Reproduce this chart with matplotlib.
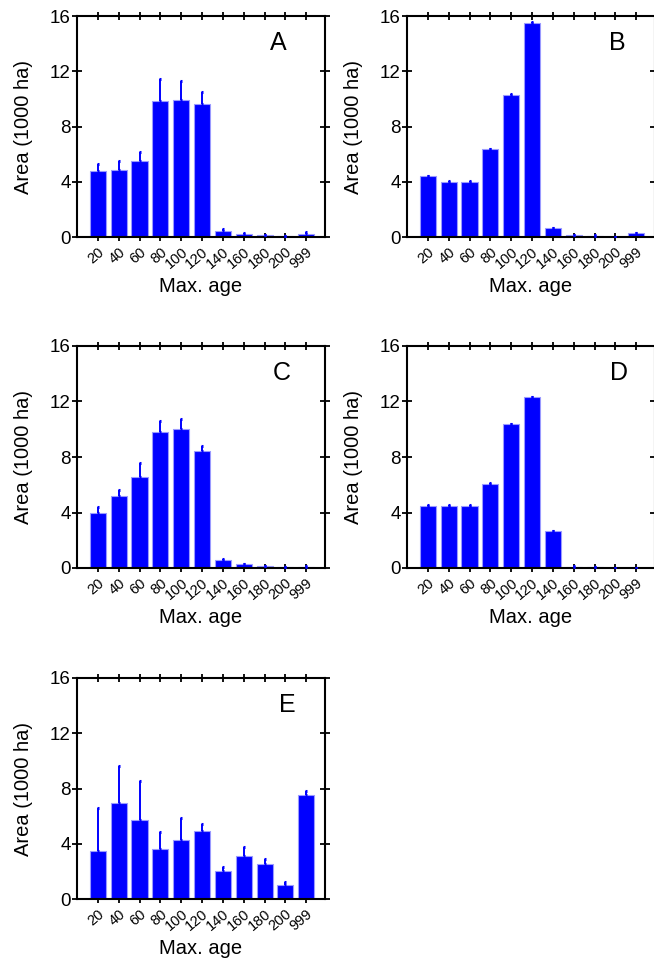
import matplotlib
matplotlib.use("Agg")
import matplotlib.pyplot as plt
import numpy as np

plt.rcParams['font.family'] = ['Liberation Sans', 'DejaVu Sans']

categories = ["20", "40", "60", "80", "100", "120", "140", "160", "180", "200", "999"]
panel_labels = ["A", "B", "C", "D", "E"]

area_A = [4.78, 4.88, 5.51, 9.81, 9.93, 9.64, 0.46, 0.22, 0.12, 0.05, 0.22]
err_A = [0.49, 0.65, 0.62, 1.61, 1.35, 0.89, 0.12, 0.05, 0.03, 0.02, 0.12]

area_B = [4.42, 3.99, 4.01, 6.35, 10.31, 15.51, 0.63, 0.12, 0.10, 0.02, 0.27]
err_B = [0.03, 0.03, 0.03, 0.04, 0.05, 0.05, 0.02, 0.01, 0.01, 0.01, 0.01]

area_C = [3.97, 5.22, 6.57, 9.79, 10.01, 8.42, 0.55, 0.26, 0.12, 0.05, 0.10]
err_C = [0.43, 0.43, 1.01, 0.82, 0.70, 0.36, 0.10, 0.05, 0.02, 0.01, 0.02]

area_D = [4.48, 4.48, 4.48, 6.09, 10.37, 12.30, 2.67, 0.10, 0.05, 0.01, 0.01]
err_D = [0.03, 0.03, 0.03, 0.03, 0.03, 0.03, 0.03, 0.02, 0.01, 0.01, 0.01]

area_E = [3.47, 6.95, 5.74, 3.60, 4.30, 4.95, 2.00, 3.14, 2.56, 0.99, 7.50]
err_E = [3.09, 2.65, 2.78, 1.23, 1.54, 0.46, 0.32, 0.62, 0.36, 0.24, 0.34]

y_ticks = [0, 4, 8, 12, 16]

W, H = 654, 961
fig = plt.figure(figsize=(W / 100, H / 100), dpi=100)

# (left, top, right, bottom) in pixels, letter position in axes fraction
boxes = [
    (77, 16, 325, 237, 0.81),
    (407, 16, 655, 237, 0.847),
    (77, 346, 325, 568, 0.825),
    (407, 346, 655, 568, 0.855),
    (77, 678, 325, 899, 0.85),
]
series = [(area_A, err_A), (area_B, err_B), (area_C, err_C), (area_D, err_D), (area_E, err_E)]

blue = "#0000ff"
for (l, t, r, b, lx), (vals, errs), lab in zip(boxes, series, panel_labels):
    ax = fig.add_axes([l / W, 1 - b / H, (r - l) / W, (b - t) / H])
    x = np.arange(1, len(categories) + 1)
    ax.bar(x, vals, width=0.77, color=blue, edgecolor="#9a9aff", linewidth=0.8, zorder=2)
    ax.errorbar(x, vals, yerr=[np.zeros(len(errs)), errs], fmt="none", ecolor=blue,
                elinewidth=1.4, capsize=0.9, capthick=2.2, zorder=3)
    ax.set_xlim(0, 11.9)
    ax.set_ylim(0, 16)
    ax.set_yticks(y_ticks)
    ax.set_yticklabels([str(v) for v in y_ticks], fontsize=13.5)
    ax.set_xticks(x)
    ax.set_xticklabels(categories, rotation=40, ha="right", rotation_mode="anchor", fontsize=10.5)
    ax.tick_params(axis="x", which="both", direction="inout", length=6, width=1.3,
                   top=True, bottom=True, pad=2.5)
    ax.tick_params(axis="y", which="both", direction="inout", length=7, width=1.3,
                   left=True, right=True, pad=1)
    for s in ax.spines.values():
        s.set_linewidth(1.5)
    ax.set_ylabel("Area (1000 ha)", fontsize=14.5, labelpad=12)
    ax.set_xlabel("Max. age", fontsize=14.5, labelpad=4)
    ax.text(lx, 0.88, lab, transform=ax.transAxes, fontsize=18, ha="center", va="center")

fig.savefig("out.png", dpi=100)
